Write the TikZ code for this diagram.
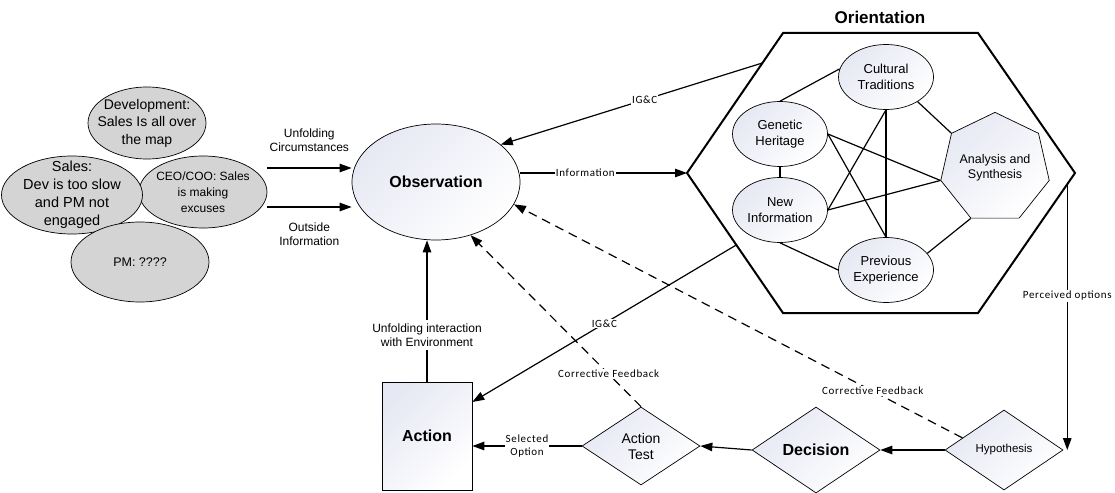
\documentclass[tikz,border=0pt]{standalone}
\usepackage{fontspec}
\setmainfont{Liberation Sans}
\newfontfamily\notefont[LetterSpace=6]{Carlito}
\usetikzlibrary{arrows.meta,shapes.geometric,calc}

\definecolor{lav}{RGB}{230,232,243}
\definecolor{blobgray}{RGB}{212,212,212}

\begin{document}
\begin{tikzpicture}[x=1pt,y=-1pt,>={Triangle[length=12pt,width=8.5pt]},
  flow/.style={->,line width=1.2pt},
  feedback/.style={dash pattern=on 9pt off 6pt},
  soft/.style={draw,line width=0.7pt,top color=lav,bottom color=white,shading angle=45},
  blob/.style={ellipse,draw,line width=0.7pt,fill=blobgray,inner sep=-20pt,align=center},
  idea/.style={ellipse,soft,inner sep=-20pt,minimum width=95pt,minimum height=65pt,align=center,font=\fontsize{13}{16}\selectfont},
  choice/.style={diamond,soft,inner sep=0pt,align=center},
  note/.style={font=\notefont\fontsize{11}{13}\selectfont,fill=white,inner sep=1pt,align=center},
  tag/.style={font=\fontsize{12}{14}\selectfont,align=center},
  heading/.style={font=\bfseries\fontsize{16}{19}\selectfont}]
 \useasboundingbox (0,0) rectangle (1115,492);

 % orientation hexagon
 \coordinate (oL)  at (687,173);
 \coordinate (oTL) at (783,33);
 \coordinate (oTR) at (978,33);
 \coordinate (oR)  at (1075,173);
 \coordinate (oBR) at (978,313);
 \coordinate (oBL) at (783,313);
 \draw[line width=2pt] (oL) -- (oTL) -- (oTR) -- (oR) -- (oBR) -- (oBL) -- cycle;
 \node[font=\bfseries\fontsize{17}{20}\selectfont] (orient) at (880,17) {Orientation};

 \node[idea] (ct) at (886,77)  {Cultural\\Traditions};
 \node[idea] (gh) at (780,134) {Genetic\\Heritage};
 \node[idea] (ni) at (780,210) {New\\Information};
 \node[idea] (pe) at (886,270) {Previous\\Experience};
 \node[regular polygon,regular polygon sides=7,soft,minimum size=104pt,inner sep=0pt,
       align=center,font=\fontsize{12.5}{15}\selectfont] (as) at (995,168) {Analysis and\\Synthesis};

 \path[line width=1.2pt]
       (gh.north) edge (ct.170)
       (gh.south) edge (ni.north)
       (gh.east)  edge (as.corner 3)
                  edge (pe.north)
       (ni.east)  edge (ct.south)
                  edge (as.corner 3)
       (ni.south) edge (pe.west)
       (ct.south) edge (pe.north)
       (ct.-38)   edge (as.corner 2)
       (pe.22)    edge (as.corner 4);

 % stakeholders
 \node[blob,minimum width=128pt,minimum height=72pt,font=\fontsize{12}{16}\selectfont] (ceo) at (203,192) {CEO/COO: Sales\\is making\\excuses};
 \node[blob,minimum width=141pt,minimum height=78pt,font=\fontsize{14.5}{18}\selectfont] (sales) at (72,195) {Sales:\\Dev is too slow\\and PM not\\engaged};
 \node[blob,minimum width=118pt,minimum height=72pt,font=\fontsize{14}{17.5}\selectfont] (dev) at (147,123) {Development:\\Sales Is all over\\the map};
 \node[blob,minimum width=138pt,minimum height=80pt,font=\fontsize{12.5}{15}\selectfont] (pm) at (140,262) {PM: ????};

 % loop
 \node[ellipse,soft,minimum width=168pt,minimum height=116pt,inner sep=-20pt,heading] (obs) at (436,182) {Observation};
 \node[rectangle,soft,minimum width=90pt,minimum height=108pt,heading] (act) at (427,436) {Action};
 \node[choice,minimum width=118pt,minimum height=78pt,font=\fontsize{14}{16}\selectfont] (ats) at (641,446) {Action\\Test};
 \node[choice,minimum width=128pt,minimum height=86pt,heading] (dec) at (816,450) {Decision};
 \node[choice,minimum width=118pt,minimum height=80pt,font=\fontsize{11.5}{14}\selectfont] (hyp) at (1004,450) {Hypothesis};

 \coordinate (uc)  at (267,168);
 \coordinate (oi)  at (267,207);
 \coordinate (igA) at ($(oL)!0.786!(oTL)$);
 \coordinate (igB) at ($(oL)!0.514!(oBL)$);
 \coordinate (po)  at ($(oR)!0.08!(oBR)$);
 \coordinate (hf)  at ($(hyp.west)!0.3!(hyp.north)$);

 \path[flow]
       (uc)  edge node[tag,above=12pt] {Unfolding\\Circumstances} (uc -| obs.west)
       (oi)  edge node[tag,below=12pt] {Outside\\Information} (oi -| obs.west)
       (oL -| obs.east) edge node[note,pos=0.39] {Information} (oL)
       (igA) edge node[note,pos=0.45] {IG\&C} (obs.30)
       (igB) edge node[note] {IG\&C} ([yshift=34pt]act.east)
       (act.north) edge node[tag,fill=white,pos=0.33] {Unfolding interaction\\with Environment} (act.north |- obs.south)
       (po)  edge node[note,pos=0.42] {Perceived options} (po |- hyp.east)
       (hyp.west) edge (dec.east)
       (dec.west) edge (ats.east)
       (ats.west) edge node[note] {Selected\\Option} (ats.west -| act.east);

 \path[flow,feedback]
       (ats.north) edge node[note,pos=0.19] {Corrective Feedback} (obs.-57)
       (hf) edge node[note,pos=0.2] {Corrective Feedback} (obs.-16);
\end{tikzpicture}
\end{document}
